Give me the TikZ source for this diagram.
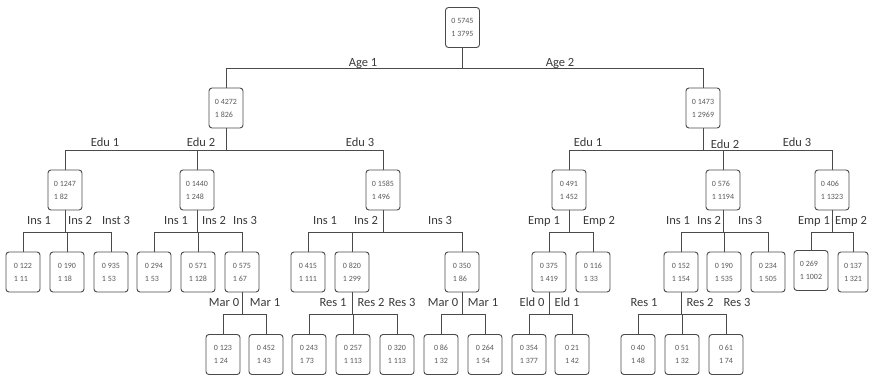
\documentclass[tikz,border=0pt]{standalone}
\usepackage{fontspec}
\setmainfont{Carlito}
\definecolor{linec}{HTML}{4A4A4A}
\definecolor{boxtext}{HTML}{5A5A5A}
\definecolor{labtext}{HTML}{3A3A3A}
\begin{document}
\begin{tikzpicture}[x=1pt,y=-1pt,
  nbox/.style={draw=linec, line width=0.9pt, rounded corners=3pt, minimum width=34pt, minimum height=40pt, inner sep=0pt, align=left, font=\fontsize{8}{13}\selectfont, text=boxtext},
  lab/.style={anchor=base, font=\fontsize{12.5}{14}\selectfont, text=labtext, inner sep=0pt},
  conn/.style={draw=linec, line width=0.9pt}]
\fill[white] (0,0) rectangle (869,380);
\useasboundingbox (0,0) rectangle (869,380);
% bar levels
\coordinate (ya) at (0,68);
\coordinate (yb) at (0,150);
\coordinate (yc) at (0,232);
\coordinate (yd) at (0,314);
% level 0/1
\node[nbox] (root) at (462.5,27.5) {0 5745\\1 3795};
\node[nbox] (L) at (226,108) {0 4272\\1 826};
\node[nbox] (R) at (703,108) {0 1473\\1 2969};
% level 2
\node[nbox] (A) at (65,190) {0 1247\\1 82};
\node[nbox] (B) at (197,190) {0 1440\\1 248};
\node[nbox] (C) at (383,190) {0 1585\\1 496};
\node[nbox] (D) at (569,190) {0 491\\1 452};
\node[nbox] (E) at (723,190) {0 576\\1 1194};
\node[nbox] (F) at (832,190) {0 406\\1 1323};
% level 3
\node[nbox] (A1) at (23,272) {0 122\\1 11};
\node[nbox] (A2) at (67,272) {0 190\\1 18};
\node[nbox] (A3) at (111,272) {0 935\\1 53};
\node[nbox] (B1) at (154,272) {0 294\\1 53};
\node[nbox] (B2) at (198,272) {0 571\\1 128};
\node[nbox] (B3) at (242,272) {0 575\\1 67};
\node[nbox] (C1) at (308,272) {0 415\\1 111};
\node[nbox] (C2) at (352,272) {0 820\\1 299};
\node[nbox] (C3) at (462,272) {0 350\\1 86};
\node[nbox] (D1) at (549,272) {0 375\\1 419};
\node[nbox] (D2) at (593,272) {0 116\\1 33};
\node[nbox] (E1) at (681,272) {0 152\\1 154};
\node[nbox] (E2) at (724,272) {0 190\\1 535};
\node[nbox] (E3) at (768,272) {0 234\\1 505};
\node[nbox] (F1) at (811,270.5) {0 269\\1 1002};
\node[nbox, minimum width=30pt] (F2) at (853,272) {0 137\\1 321};
% level 4
\node[nbox] (B3a) at (223,354.5) {0 123\\1 24};
\node[nbox] (B3b) at (266,354.5) {0 452\\1 43};
\node[nbox] (C2a) at (309,354.5) {0 243\\1 73};
\node[nbox] (C2b) at (353,354.5) {0 257\\1 113};
\node[nbox] (C2c) at (397,354.5) {0 320\\1 113};
\node[nbox] (C3a) at (441,354.5) {0 86\\1 32};
\node[nbox] (C3b) at (485,354.5) {0 264\\1 54};
\node[nbox] (D1a) at (529,354.5) {0 354\\1 377};
\node[nbox] (D1b) at (572,354.5) {0 21\\1 42};
\node[nbox] (E1a) at (638,354.5) {0 40\\1 48};
\node[nbox] (E1b) at (682,354.5) {0 51\\1 32};
\node[nbox] (E1c) at (726,354.5) {0 61\\1 74};
% connectors
\foreach \p/\yy/\cs in {root/ya/{L,R}, L/yb/{A,B,C}, R/yb/{D,E,F},
  A/yc/{A1,A2,A3}, B/yc/{B1,B2,B3}, C/yc/{C1,C2,C3}, D/yc/{D1,D2}, E/yc/{E1,E2,E3}, F/yc/{F1,F2},
  B3/yd/{B3a,B3b}, C2/yd/{C2a,C2b,C2c}, C3/yd/{C3a,C3b}, D1/yd/{D1a,D1b}, E1/yd/{E1a,E1b,E1c}}{
  \draw[conn] (\p.south) -- (\p.south |- \yy);
  \foreach \c in \cs {\draw[conn] (\p.south |- \yy) -| (\c.north);}
}
% labels
\node[lab] (lage1) at (363,66) {Age 1};
\node[lab] (lage2) at (560,66) {Age 2};
\node[lab] (lLe1) at (105,146) {Edu 1};
\node[lab] (lLe2) at (201,146) {Edu 2};
\node[lab] (lLe3) at (360,146) {Edu 3};
\node[lab] (lRe1) at (588,146) {Edu 1};
\node[lab] (lRe2) at (725,148) {Edu 2};
\node[lab] (lRe3) at (797,146) {Edu 3};
\node[lab] (lA1) at (39,224) {Ins 1};
\node[lab] (lA2) at (80,224) {Ins 2};
\node[lab] (lA3) at (116,224) {Inst 3};
\node[lab] (lB1) at (176,224) {Ins 1};
\node[lab] (lB2) at (214,224) {Ins 2};
\node[lab] (lB3) at (245,224) {Ins 3};
\node[lab] (lC1) at (325,224) {Ins 1};
\node[lab] (lC2) at (366,224) {Ins 2};
\node[lab] (lC3) at (440,224) {Ins 3};
\node[lab] (lD1) at (544,224) {Emp 1};
\node[lab] (lD2) at (599,224) {Emp 2};
\node[lab] (lE1) at (678,224) {Ins 1};
\node[lab] (lE2) at (709,224) {Ins 2};
\node[lab] (lE3) at (750,224) {Ins 3};
\node[lab] (lF1) at (814,224) {Emp 1};
\node[lab] (lF2) at (851,224) {Emp 2};
\node[lab] (lB3a) at (224,306) {Mar 0};
\node[lab] (lB3b) at (265,306) {Mar 1};
\node[lab] (lC2a) at (333,306) {Res 1};
\node[lab] (lC2b) at (371,306) {Res 2};
\node[lab] (lC2c) at (402,306) {Res 3};
\node[lab] (lC3a) at (443,306) {Mar 0};
\node[lab] (lC3b) at (483,306) {Mar 1};
\node[lab] (lD1a) at (532,306) {Eld 0};
\node[lab] (lD1b) at (567,306) {Eld 1};
\node[lab] (lE1a) at (644,306) {Res 1};
\node[lab] (lE1b) at (700,306) {Res 2};
\node[lab] (lE1c) at (737,306) {Res 3};
\end{tikzpicture}
\end{document}
